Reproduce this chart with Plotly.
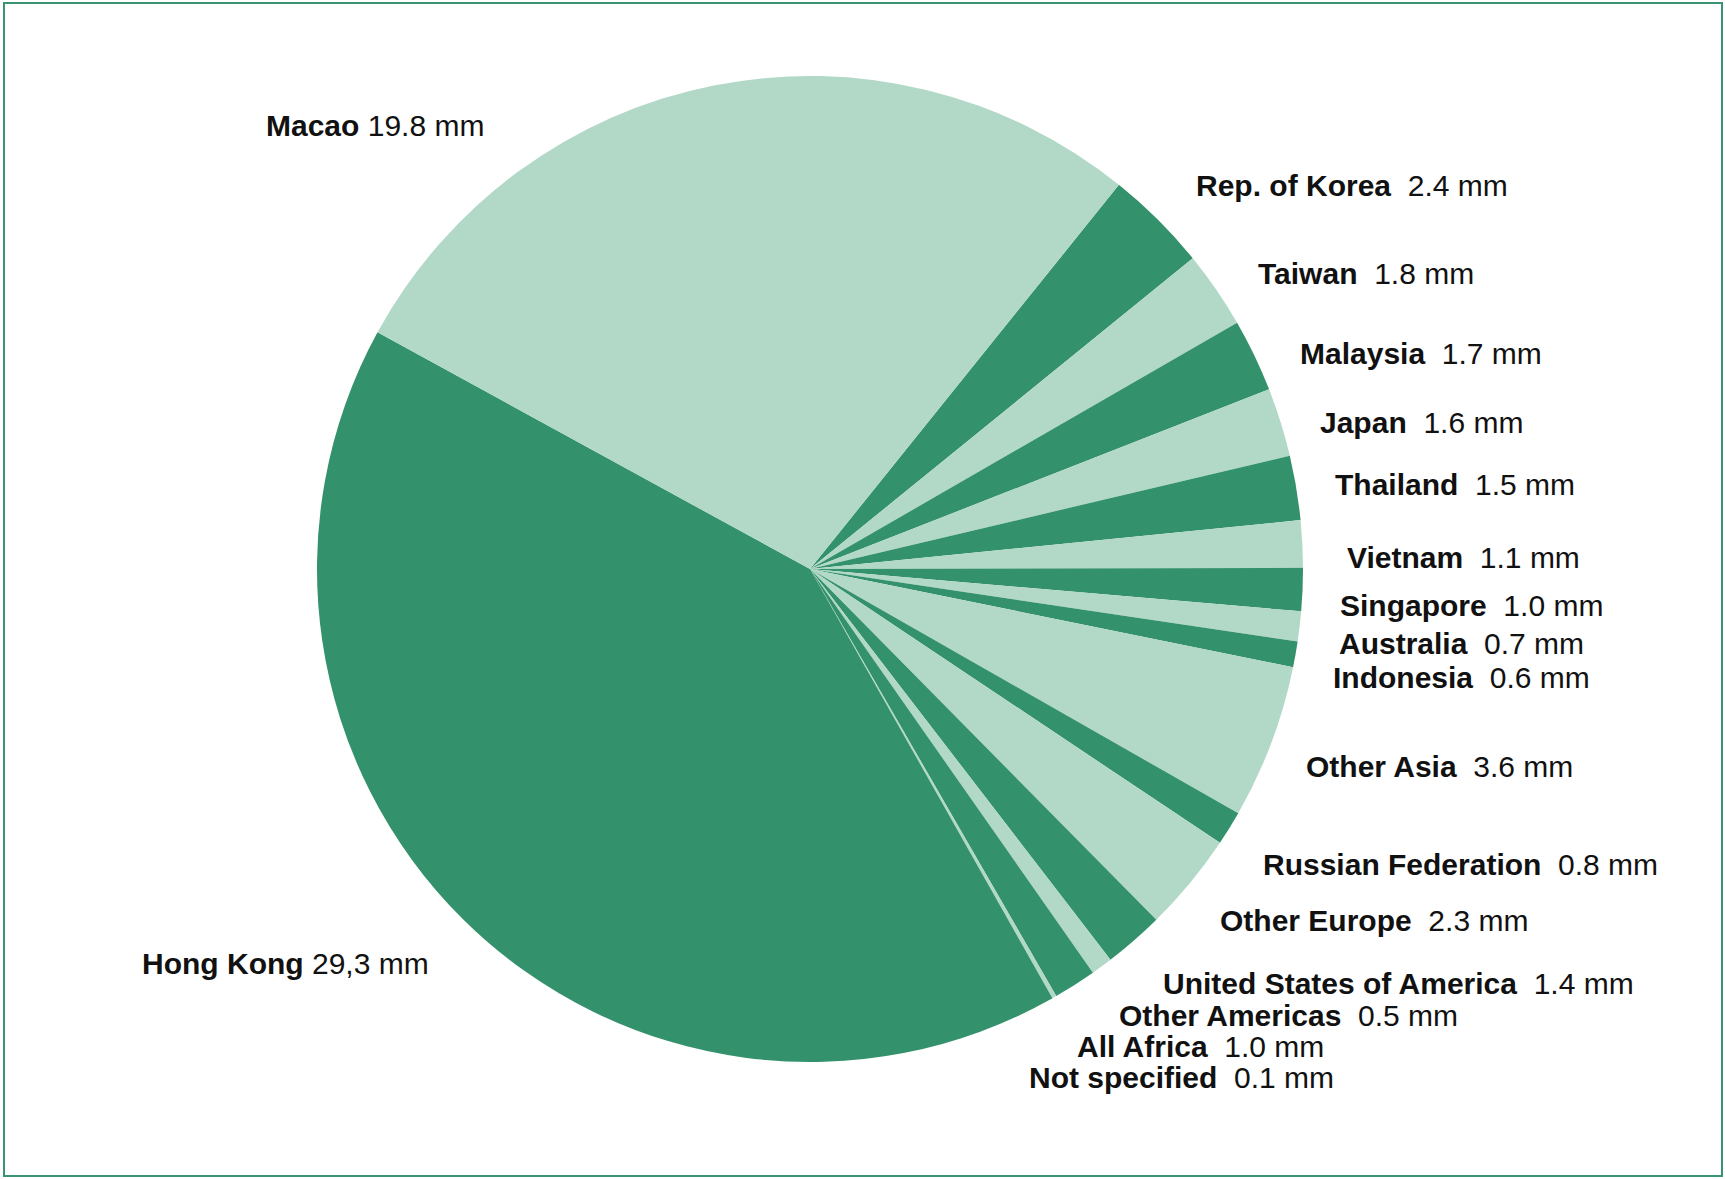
import plotly.graph_objects as go

# ---- data ----
regions = ["Rep. of Korea", "Taiwan", "Malaysia", "Japan", "Thailand", "Vietnam",
           "Singapore", "Australia", "Indonesia", "Other Asia", "Russian Federation",
           "Other Europe", "United States of America", "Other Americas", "All Africa",
           "Not specified", "Hong Kong", "Macao"]
visitors_mm = [2.4, 1.8, 1.7, 1.6, 1.5, 1.1, 1.0, 0.7, 0.6, 3.6, 0.8,
               2.3, 1.4, 0.5, 1.0, 0.1, 29.3, 19.8]
value_text = ["2.4 mm", "1.8 mm", "1.7 mm", "1.6 mm", "1.5 mm", "1.1 mm", "1.0 mm",
              "0.7 mm", "0.6 mm", "3.6 mm", "0.8 mm", "2.3 mm", "1.4 mm", "0.5 mm",
              "1.0 mm", "0.1 mm", "29,3 mm", "19.8 mm"]

# ---- styles / layout ----
W, H = 1725, 1179
DARK = "#33916C"
LIGHT = "#B2D8C7"
colors = [DARK if i % 2 == 0 else LIGHT for i in range(len(regions))]

# label anchor positions in pixels (left edge, vertical middle)
label_pos = {
    "Macao": (265, 125), "Rep. of Korea": (1195, 186), "Taiwan": (1257, 273),
    "Malaysia": (1299, 353), "Japan": (1319, 422), "Thailand": (1334, 484),
    "Vietnam": (1346, 557), "Singapore": (1339, 605), "Australia": (1338, 643),
    "Indonesia": (1332, 677), "Other Asia": (1305, 766),
    "Russian Federation": (1262, 865), "Other Europe": (1219, 920),
    "United States of America": (1162, 983), "Other Americas": (1118, 1015),
    "All Africa": (1076, 1046), "Not specified": (1028, 1077),
    "Hong Kong": (141, 963),
}

cx, cy, r = 810, 569, 493

fig = go.Figure(go.Pie(
    labels=regions, values=visitors_mm, sort=False, direction="clockwise",
    rotation=38.8, marker=dict(colors=colors, line=dict(width=0)),
    textinfo="none", hoverinfo="label+value", showlegend=False,
    domain=dict(x=[(cx - r) / W, (cx + r) / W],
                y=[(H - cy - r) / H, (H - cy + r) / H]),
))

annotations = []
for name, val in zip(regions, value_text):
    px, py = label_pos[name]
    sep = " " if name in ("Macao", "Hong Kong") else "\u00a0 "
    annotations.append(dict(
        x=px / W, y=1 - py / H, xref="paper", yref="paper",
        xanchor="left", yanchor="middle", showarrow=False, borderpad=0,
        text=f"<b>{name}</b>{sep}{val}",
        font=dict(family="Liberation Sans, Arial, sans-serif", size=30, color="#111111"),
    ))

fig.update_layout(
    width=W, height=H, margin=dict(l=0, r=0, t=0, b=0),
    paper_bgcolor="white", plot_bgcolor="white",
    annotations=annotations,
    shapes=[dict(type="rect", xref="paper", yref="paper",
                 x0=4 / W, x1=1722 / W, y0=3 / H, y1=1 - 3 / H,
                 line=dict(color="#3A9472", width=2))],
)

fig.write_html("out.html", config={"displayModeBar": False},
               post_script="document.body.style.margin='0';document.body.style.overflow='hidden';")
